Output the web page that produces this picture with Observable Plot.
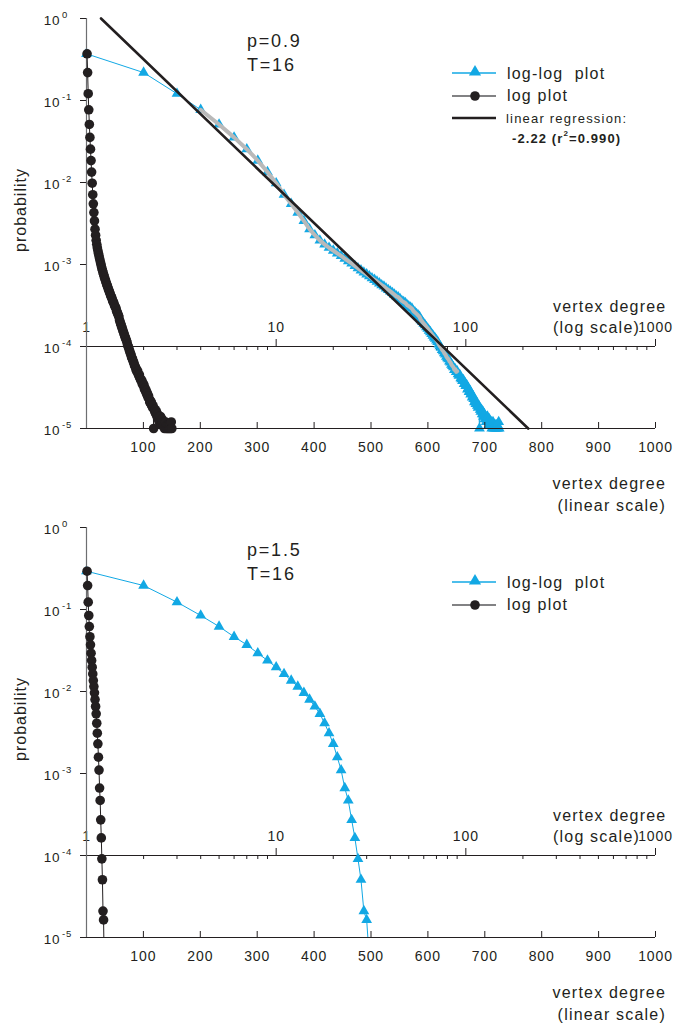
<!DOCTYPE html>
<html>
<head>
<meta charset="utf-8">
<script src="https://cdn.jsdelivr.net/npm/d3@7"></script>
<script src="https://cdn.jsdelivr.net/npm/@observablehq/plot@0.6"></script>
<style>
  body { margin: 0; background: #fff; }
  #page { position: relative; width: 674px; height: 1023px; overflow: hidden; font-family: "Liberation Sans", Arial, Helvetica, sans-serif; }
  .panel { position: absolute; left: 0; width: 674px; height: 509px; }
  .panel > svg { position: absolute; left: 0; top: 0; }
</style>
</head>
<body>
<div id="page"></div>
<script>
// ---------------- data ----------------
const topDegree = [
  1,2,3,4,5,6,7,8,9,10, 11,12,13,14,15,16,17,18,19,20,
  21,22,23,24,25,26,27,28,29,30, 31,32,33,34,35,36,37,38,39,40,
  41,42,43,44,45,46,47,48,49,50, 51,52,53,54,55,56,57,58,59,60,
  61,62,63,64,65,66,67,68,69,70, 71,72,73,74,75,76,77,78,79,80,
  81,82,83,84,85,86,87,88,89,90, 91,92,93,94,95,96,97,98,99,100,
  101,102,103,104,105,106,107,108,109,110, 111,112,113,114,115,116,117,118,119,120,
  121,122,123,124,125,126,127,128,129,130, 131,132,133,134,135,136,137,138,139,140,
  141,142,143,144,145,146,147,148,149,150
];
const topProbability = [
  0.371, 0.219, 0.121, 0.077, 0.051, 0.0355, 0.0255, 0.0185, 0.0134, 0.0098,
  0.0071, 0.0055, 0.0043, 0.0034, 0.0027, 0.00228, 0.00197, 0.00176, 0.00160, 0.00148,
  0.00137, 0.00127, 0.00118, 0.00110, 0.00103, 0.00096, 0.00090, 0.00085, 0.00080, 0.00076,
  0.00072, 0.00068, 0.00065, 0.00062, 0.00059, 0.00056, 0.00054, 0.00051, 0.00049, 0.00047,
  0.00045, 0.00043, 0.00041, 0.00040, 0.00038, 0.00036, 0.00035, 0.00034, 0.00032, 0.00031,
  0.00030, 0.00029, 0.00027, 0.00026, 0.00025, 0.00024, 0.00023, 0.00021, 0.00020, 0.00019,
  0.000182, 0.000172, 0.000165, 0.000156, 0.000150, 0.000142, 0.000136, 0.000129, 0.000125, 0.000119,
  0.000114, 0.000106, 0.000101, 0.000097, 0.000091, 0.000088, 0.000083, 0.000080, 0.000075, 0.000072,
  0.000070, 0.000066, 0.000064, 0.000060, 0.000058, 0.000056, 0.000052, 0.000053, 0.000049, 0.000050,
  0.000046, 0.000044, 0.000045, 0.000041, 0.000040, 0.000038, 0.000039, 0.000035, 0.000036, 0.000033,
  0.000034, 0.000030, 0.000031, 0.000028, 0.000029, 0.000026, 0.000027, 0.000024, 0.000025, 0.000023,
  0.000021, 0.000022, 0.000020, 0.000021, 0.000019, 0.000018, 0.000019, 0.000010, 0.000017, 0.000016,
  0.000017, 0.000015, 0.000016, 0.000014, 0.000015, 0.000013, 0.000014, 0.000012, 0.000013, 0.000014,
  0.000012, 0.000011, 0.000013, 0.000012, 0.000011, 0.000012, 0.000010, 0.000011, 0.000012, 0.000010,
  0.000011, 0.000010, 0.000011, 0.000010, 0.000011, 0.000010, 0.000011, 0.000010, 0.000012, 0.000010
];
// degree range used for the regression fit (grey overlay), and the fitted line
const topFitRange = [4, 90];
const regressionSlope = -2.22;
const regressionIntercept = 0.17; // log10(probability) at degree 1

const bottomDegree = [
  1,2,3,4,5,6,7,8,9,10, 11,12,13,14,15,16,17,18,19,20,
  21,22,23,24,25,26,27,28,29,30,31
];
const bottomProbability = [
  0.293, 0.196, 0.123, 0.0845, 0.062, 0.0465, 0.0371, 0.0293, 0.0239, 0.0198,
  0.0164, 0.0136, 0.0115, 0.00964, 0.00798, 0.00656, 0.00534, 0.0041, 0.0031, 0.0023,
  0.00158, 0.0011, 0.000665, 0.000469, 0.000272, 0.000164, 0.000091, 0.0000506, 0.000021, 0.0000164,
  0.0000054
];

// ticks
const yDecades = [1e-5, 1e-4, 1e-3, 1e-2, 1e-1, 1];
const yExponents = ["-5", "-4", "-3", "-2", "-1", "0"];
const linearTicks = [100, 200, 300, 400, 500, 600, 700, 800, 900, 1000];
const logMajorTicks = [1, 10, 100, 1000];
const logMinorTicks = [2,3,4,5,6,7,8,9, 20,30,40,50,60,70,80,90, 200,300,400,500,600,700,800,900];

// texts
const topParams = ["p=0.9", "T=16"];
const bottomParams = ["p=1.5", "T=16"];
const legendLabels = ["log-log  plot", "log plot", "linear regression:"];
const regressionLabel = ["-2.22 (r", "2", "=0.990)"];
const yLabel = "probability";
const logAxisLabel = ["vertex degree", "(log scale)"];
const linAxisLabel = ["vertex degree", "(linear scale)"];

// ---------------- drawing ----------------
const BLUE = "#12a8e4";
const INK = "#231f20";
const AXISGREY = "#6d6e71";
const FITGREY = "#b9b9b9";
const FONT = '"Liberation Sans", Arial, Helvetica, sans-serif';
const W = 674, PH = 509;
const M = {marginTop: 18, marginRight: 19, marginBottom: 81, marginLeft: 86};

function makePanel(y0, degree, prob, withFit, params) {
  const data = degree.map((k, i) => ({k, p: prob[i]}));
  const shown = data.filter(d => d.p >= 1e-5);

  const panel = document.createElement("div");
  panel.className = "panel";
  panel.style.top = y0 + "px";
  document.getElementById("page").appendChild(panel);

  const common = {
    width: W, height: PH, ...M,
    y: {type: "log", domain: [1e-5, 1], axis: null},
    style: {background: "transparent", fontFamily: FONT, color: INK, overflow: "visible", letterSpacing: "0.9px"}
  };

  // ---- log-log layer (x: log scale) ----
  const logMarks = [
    Plot.ruleY([1e-4], {stroke: INK, strokeWidth: 1}),
    Plot.ruleX(logMajorTicks, {x: d => d, y1: () => 1e-4, y2: () => 1e-4, insetTop: -7, stroke: INK}),
    Plot.ruleX(logMinorTicks, {x: d => d, y1: () => 1e-4, y2: () => 1e-4, insetBottom: -4, stroke: INK}),
    Plot.text(logMajorTicks, {x: d => d, y: () => 1e-4, dy: -19, text: d => String(d), fontSize: 14, fill: INK}),
    Plot.line(data, {x: "k", y: "p", stroke: BLUE, strokeWidth: 1, clip: true}),
    Plot.dot(shown, {x: "k", y: "p", symbol: "triangle", r: 4, fill: BLUE, stroke: "none"})
  ];
  if (withFit) {
    const fit = data.filter(d => d.k >= topFitRange[0] && d.k <= topFitRange[1]);
    const regLine = [1, 1e-5].map(p => ({k: Math.pow(10, (Math.log10(p) - regressionIntercept) / regressionSlope), p}));
    logMarks.push(
      Plot.line(fit, {x: "k", y: "p", stroke: FITGREY, strokeWidth: 4, strokeLinejoin: "round"}),
      Plot.line(regLine, {x: "k", y: "p", stroke: INK, strokeWidth: 2.6})
    );
  }
  const logLayer = Plot.plot({...common, x: {type: "log", domain: [1, 1000], axis: null}, marks: logMarks});
  panel.appendChild(logLayer);

  // ---- linear layer (x: linear scale) ----
  const linLayer = Plot.plot({
    ...common,
    x: {type: "linear", domain: [0, 1000], axis: null},
    marks: [
      Plot.ruleX([0], {stroke: AXISGREY, strokeWidth: 1.2}),
      Plot.ruleY([1e-5], {stroke: INK, strokeWidth: 1.2}),
      Plot.ruleY(yDecades, {y: d => d, x1: () => 0, x2: () => 0, insetLeft: -6, stroke: INK}),
      Plot.text(yDecades, {y: d => d, frameAnchor: "left", dx: -26, dy: 2, textAnchor: "end", text: () => "10", fontSize: 13.5, fill: INK}),
      Plot.text(yDecades, {y: d => d, frameAnchor: "left", dx: -24.5, dy: -4, textAnchor: "start", text: (d, i) => yExponents[i], fontSize: 9.5, fill: INK}),
      Plot.ruleX(linearTicks, {x: d => d, y1: () => 1e-5, y2: () => 1e-5, insetTop: -6, stroke: INK}),
      Plot.text(linearTicks, {x: d => d, frameAnchor: "bottom", dy: 23, text: d => String(d), fontSize: 14, fill: INK}),
      Plot.line(data, {x: "k", y: "p", stroke: INK, strokeWidth: 1, clip: true}),
      Plot.dot(shown, {x: "k", y: "p", r: 4.8, fill: INK, stroke: "none"})
    ]
  });
  panel.appendChild(linLayer);

  // ---- annotations & legend ----
  const ns = "http://www.w3.org/2000/svg";
  const ann = document.createElementNS(ns, "svg");
  ann.setAttribute("width", W); ann.setAttribute("height", PH);
  ann.style.fontFamily = FONT;
  ann.style.overflow = "visible";
  let legendRows = [
    `<line x1="452" x2="496" y1="73" y2="73" stroke="${BLUE}" stroke-width="1.3"/>
     <path d="${d3.symbol(d3.symbolTriangle, 64)()}" transform="translate(475,72)" fill="${BLUE}"/>
     <text x="507" y="73" dominant-baseline="central" font-size="16" letter-spacing="1.2" style="white-space:pre">${legendLabels[0]}</text>`,
    `<line x1="452" x2="496" y1="96" y2="96" stroke="#58595b" stroke-width="1.3"/>
     <circle cx="475" cy="96" r="4.8" fill="${INK}"/>
     <text x="507" y="95" dominant-baseline="central" font-size="16" letter-spacing="1.2">${legendLabels[1]}</text>`
  ];
  if (withFit) {
    legendRows.push(
      `<line x1="452" x2="496" y1="118" y2="118" stroke="${INK}" stroke-width="2.6"/>
       <text x="506" y="118" dominant-baseline="central" font-size="13" letter-spacing="1.2">${legendLabels[2]}</text>
       <text x="512" y="138" dominant-baseline="central" font-size="13" font-weight="bold" letter-spacing="1.1">${regressionLabel[0]}<tspan font-size="8" dy="-5">${regressionLabel[1]}</tspan><tspan dy="5">${regressionLabel[2]}</tspan></text>`
    );
  }
  ann.innerHTML = `
    <g fill="${INK}">
      <text x="247" y="41" dominant-baseline="central" font-size="18" letter-spacing="1.8">${params[0]}</text>
      <text x="247" y="65" dominant-baseline="central" font-size="18" letter-spacing="1.8">${params[1]}</text>
      ${legendRows.join("")}
      <text transform="translate(20,210) rotate(-90)" text-anchor="middle" dominant-baseline="central" font-size="16" letter-spacing="1">${yLabel}</text>
      <text x="553" y="306" dominant-baseline="central" font-size="16" letter-spacing="1.2">${logAxisLabel[0]}</text>
      <text x="553" y="327" dominant-baseline="central" font-size="16" letter-spacing="1.2">${logAxisLabel[1]}</text>
      <text x="666" y="483" text-anchor="end" dominant-baseline="central" font-size="16" letter-spacing="1.2">${linAxisLabel[0]}</text>
      <text x="666" y="505" text-anchor="end" dominant-baseline="central" font-size="16" letter-spacing="1.2">${linAxisLabel[1]}</text>
    </g>`;
  panel.appendChild(ann);
}

makePanel(0, topDegree, topProbability, true, topParams);
makePanel(509, bottomDegree, bottomProbability, false, bottomParams);
</script>
</body>
</html>
